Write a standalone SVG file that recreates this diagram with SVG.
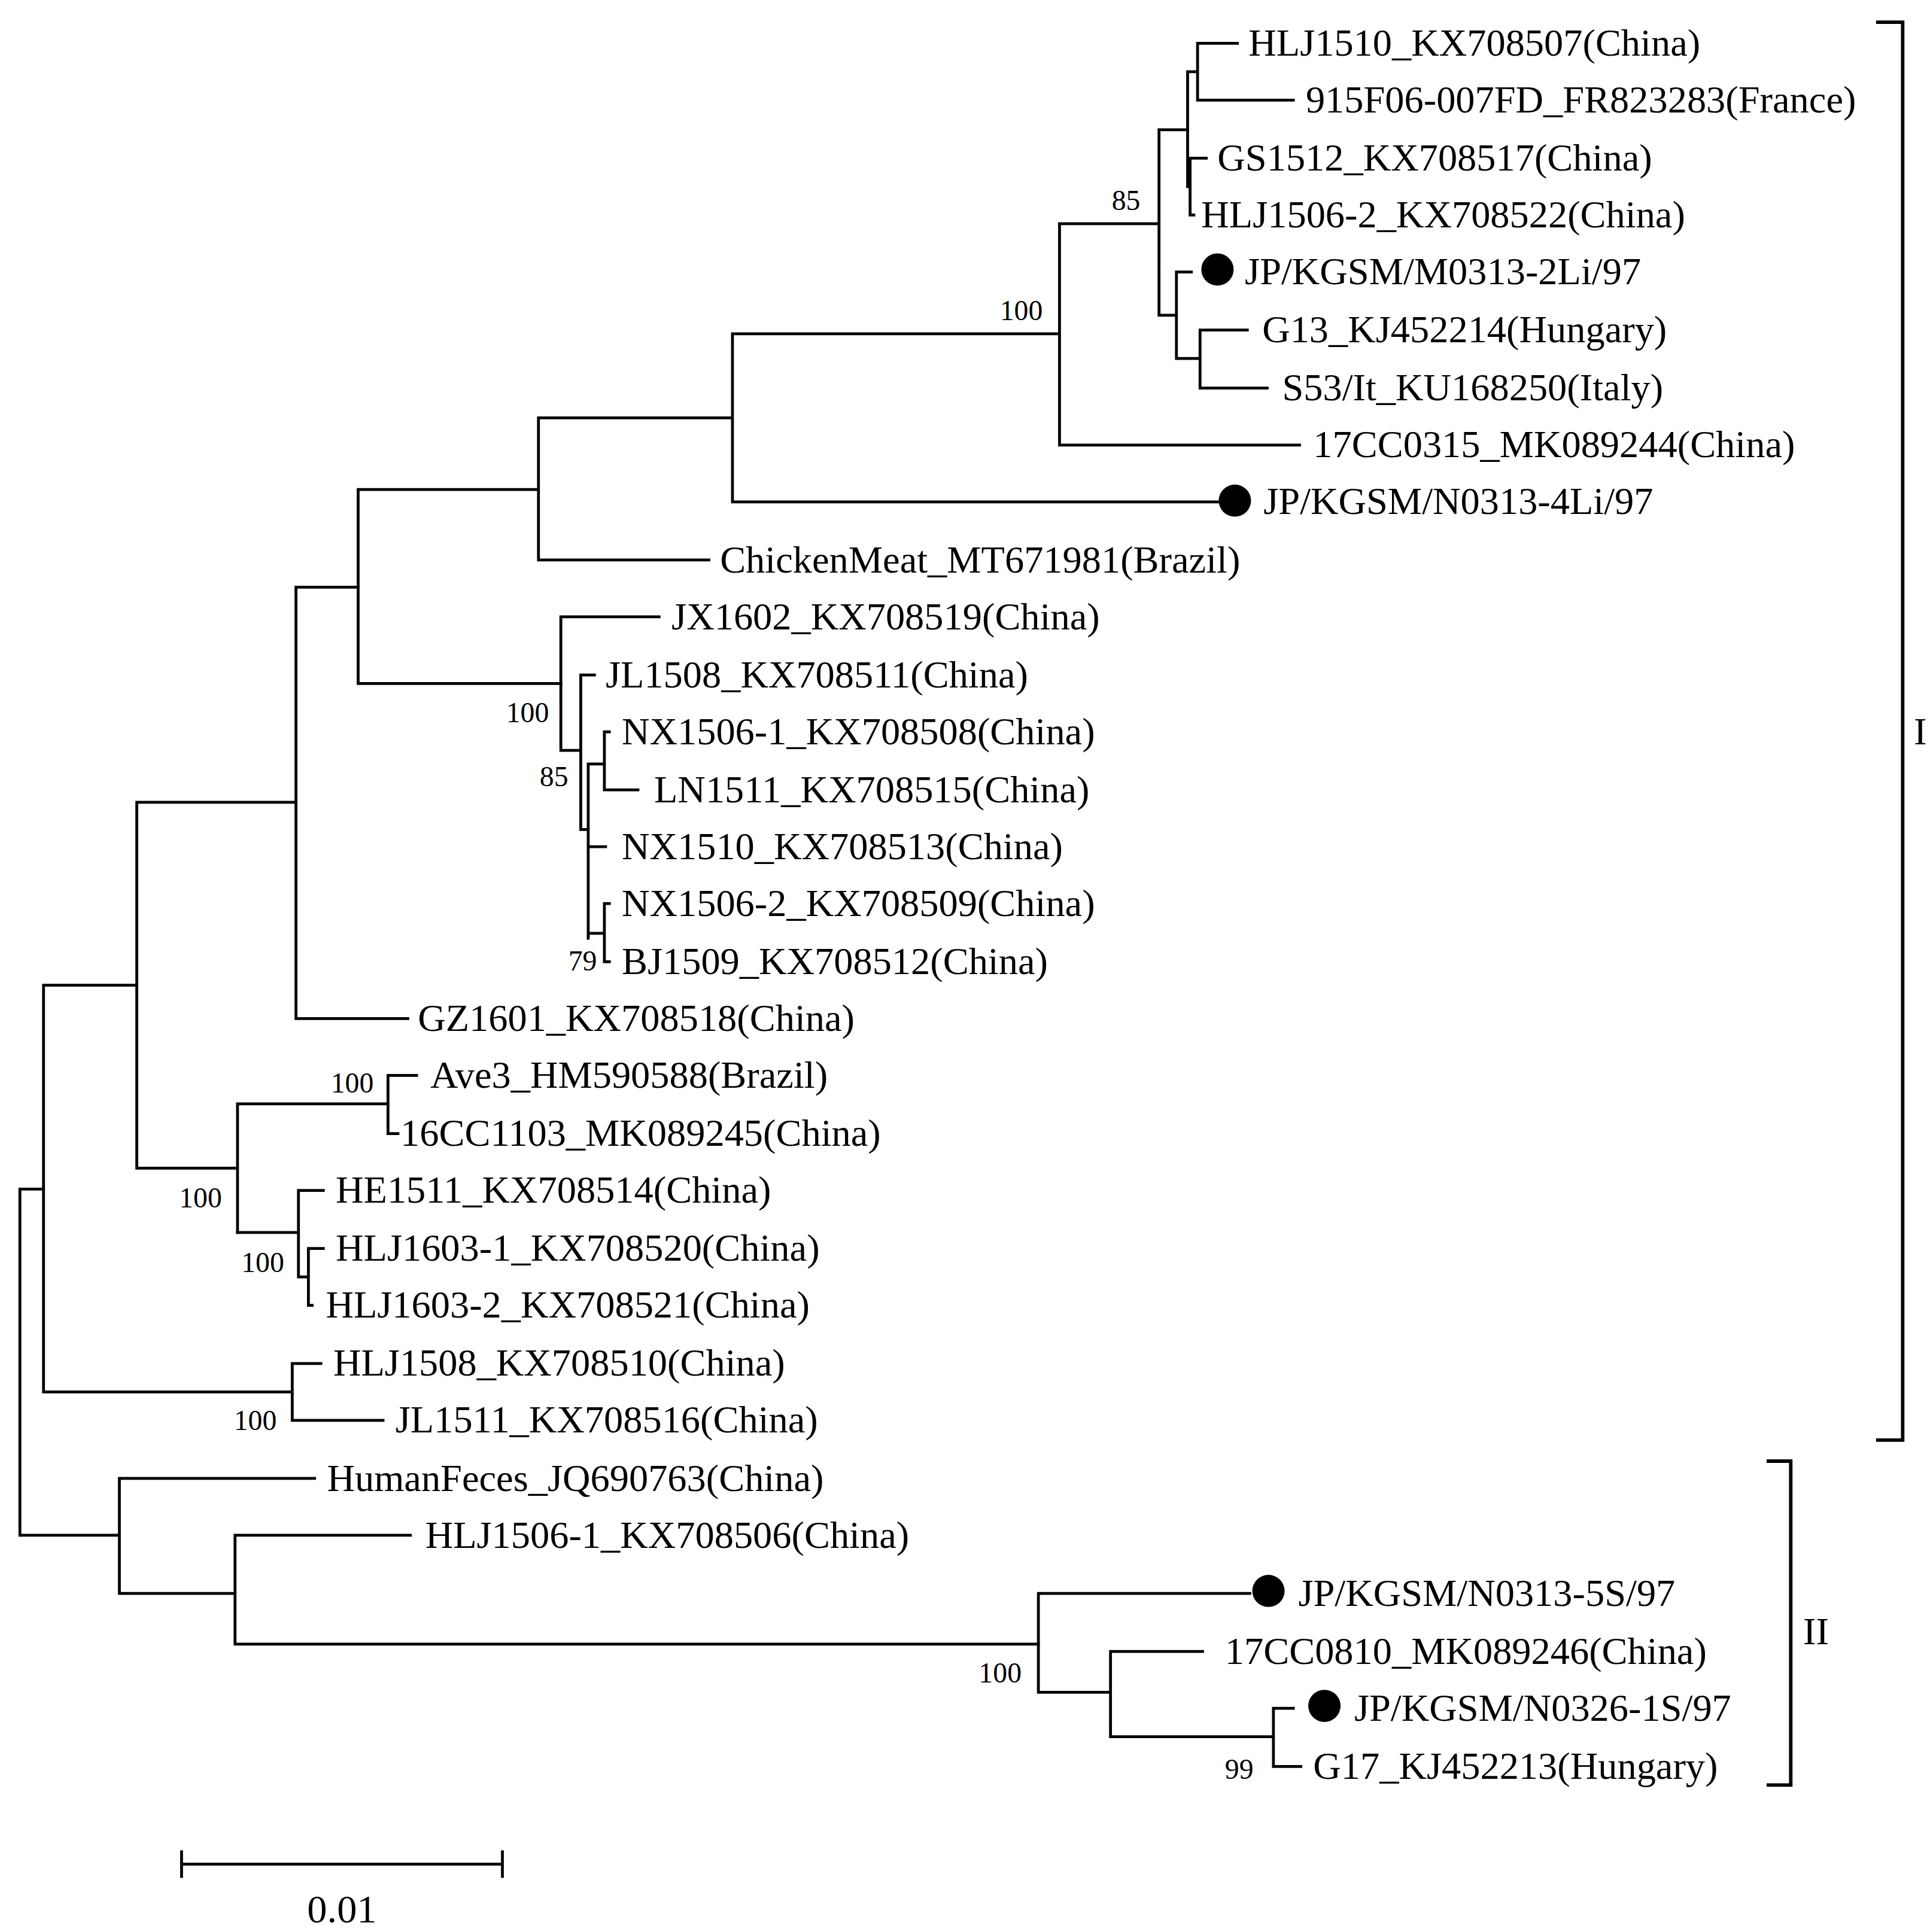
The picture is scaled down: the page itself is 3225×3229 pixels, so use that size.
<svg xmlns="http://www.w3.org/2000/svg" width="3225" height="3229" viewBox="0 0 3225 3229">
<style>
.t{font-family:"Liberation Serif","Times New Roman",serif;font-size:31px;fill:#000}
.b{font-family:"Liberation Serif","Times New Roman",serif;font-size:23px;fill:#000}
.c path{fill:none;stroke:#000;stroke-width:2.3;stroke-linecap:square}
.c path.k{stroke-width:2.8}
</style>
<rect width="3225" height="3229" fill="#fff"/>
<g transform="scale(2.078,2.066)">
<g id="connectors" class="c">
<path d="M995,35H963V81H1040M963,58H955V151H957M957,128H970M957,128V174H960"/>
<path d="M955,105H932V255H946M946,220V290M946,220H958M946,290H965M965,267V314M965,267H1003M965,314H1019"/>
<path d="M932,181H852V360H1045M852,270H589V406H980M589,338H433V453H570M433,396H288V553H451"/>
<path d="M530,499H451V607M451,607H467M478,546H467V671H473M473,618V759M473,618H486M486,592V639M486,592H490M486,639H513M473,685H487M473,755H486M486,731V778M486,731H490M486,778H490"/>
<path d="M288,475H238V824H328M238,649H110V945H191M191,893V997M191,893H312M312,870V917M312,870H335M312,917H320"/>
<path d="M191,997H240M240,963V1033M240,963H260M240,1033H248M248,1010V1056M248,1010H260M248,1056H251"/>
<path d="M110,797H35V1126H235M235,1103V1149M235,1103H258M235,1149H308"/>
<path d="M35,962H16V1242H96M96,1196V1289M96,1196H253M96,1289H189M189,1242V1330M189,1242H330M189,1330H835"/>
<path d="M835,1289V1369M835,1289H1005M835,1369H893M893,1336V1405M893,1336H967M893,1405H1024M1024,1382V1429M1024,1382H1040M1024,1429H1046"/>
<path class="k" d="M1510,18H1530V1165H1510M1422,1182H1440V1444H1422"/>
<path d="M146,1508H404M146,1498V1518M404,1498V1518"/>
</g>
<g id="markers">
<circle cx="979" cy="218" r="13"/>
<circle cx="993" cy="405" r="13"/>
<circle cx="1020" cy="1287" r="13"/>
<circle cx="1065" cy="1380" r="13"/>
</g>
<g id="leaves">
<text class="t" x="1004" y="45">HLJ1510_KX708507(China)</text>
<text class="t" x="1050" y="91">915F06-007FD_FR823283(France)</text>
<text class="t" x="979" y="138">GS1512_KX708517(China)</text>
<text class="t" x="966" y="184">HLJ1506-2_KX708522(China)</text>
<text class="t" x="1001" y="230">JP/KGSM/M0313-2Li/97</text>
<text class="t" x="1015" y="277">G13_KJ452214(Hungary)</text>
<text class="t" x="1031" y="324">S53/It_KU168250(Italy)</text>
<text class="t" x="1056" y="370">17CC0315_MK089244(China)</text>
<text class="t" x="1016" y="416">JP/KGSM/N0313-4Li/97</text>
<text class="t" x="579" y="463">ChickenMeat_MT671981(Brazil)</text>
<text class="t" x="540" y="509">JX1602_KX708519(China)</text>
<text class="t" x="487" y="556">JL1508_KX708511(China)</text>
<text class="t" x="500" y="602">NX1506-1_KX708508(China)</text>
<text class="t" x="526" y="649">LN1511_KX708515(China)</text>
<text class="t" x="500" y="695">NX1510_KX708513(China)</text>
<text class="t" x="500" y="741">NX1506-2_KX708509(China)</text>
<text class="t" x="500" y="788">BJ1509_KX708512(China)</text>
<text class="t" x="336" y="834">GZ1601_KX708518(China)</text>
<text class="t" x="346" y="880">Ave3_HM590588(Brazil)</text>
<text class="t" x="322" y="927">16CC1103_MK089245(China)</text>
<text class="t" x="270" y="973">HE1511_KX708514(China)</text>
<text class="t" x="270" y="1020">HLJ1603-1_KX708520(China)</text>
<text class="t" x="262" y="1066">HLJ1603-2_KX708521(China)</text>
<text class="t" x="268" y="1113">HLJ1508_KX708510(China)</text>
<text class="t" x="318" y="1159">JL1511_KX708516(China)</text>
<text class="t" x="263" y="1206">HumanFeces_JQ690763(China)</text>
<text class="t" x="342" y="1252">HLJ1506-1_KX708506(China)</text>
<text class="t" x="1044" y="1299">JP/KGSM/N0313-5S/97</text>
<text class="t" x="985" y="1346">17CC0810_MK089246(China)</text>
<text class="t" x="1089" y="1392">JP/KGSM/N0326-1S/97</text>
<text class="t" x="1056" y="1439">G17_KJ452213(Hungary)</text>
</g>
<g id="bootstrap">
<text class="b" x="894" y="170">85</text>
<text class="b" x="804" y="259">100</text>
<text class="b" x="407" y="584">100</text>
<text class="b" x="434" y="636">85</text>
<text class="b" x="457" y="785">79</text>
<text class="b" x="266" y="884">100</text>
<text class="b" x="144" y="977">100</text>
<text class="b" x="194" y="1029">100</text>
<text class="b" x="188" y="1157">100</text>
<text class="b" x="787" y="1361">100</text>
<text class="b" x="985" y="1439">99</text>
</g>
<g id="clades">
<text class="t" x="1539" y="602">I</text>
<text class="t" x="1450" y="1330">II</text>
</g>
<text class="t" x="275" y="1555" text-anchor="middle" style="font-size:32px">0.01</text>
</g>
</svg>
